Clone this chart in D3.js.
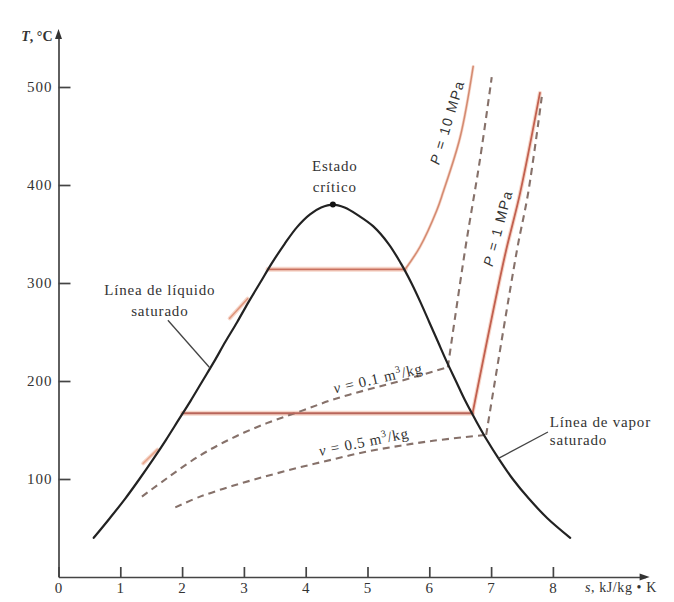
<!DOCTYPE html>
<html lang="es">
<head>
<meta charset="utf-8">
<title>Diagrama T-s del agua</title>
<script src="https://d3js.org/d3.v7.min.js"></script>
<style>
  body { margin:0; background:#fff; }
  svg text { font-family: "Liberation Serif", "DejaVu Serif", serif; fill:#333; }
  .axis path, .axis line { stroke:#444; stroke-width:1.7; }
  .axis text { font-size:15px; letter-spacing:1px; fill:#333; font-family:"Liberation Serif", serif; }
  .lbl { font-size:15px; letter-spacing:0.8px; }
  .plbl { font-family:"Liberation Sans", Arial, sans-serif !important; font-size:14px; letter-spacing:1.4px; }
</style>
</head>
<body>
<svg id="chart"></svg>
<script>
// ---- data (s in kJ/kg·K, T in °C) ----
var sTicks = [0,1,2,3,4,5,6,7,8];
var tTicks = [100,200,300,400,500];

var satDome = [[0.57,40],[0.83,60],[1.08,80],[1.31,100],[1.53,120],[1.74,140],[1.94,160],[2.14,180],
  [2.33,200],[2.52,220],[2.70,240],[2.89,260],[3.07,280],[3.26,300],[3.45,320],[3.66,340],[3.86,357],
  [4.07,370],[4.25,377],[4.44,380],[4.63,377],[4.85,369],[5.09,358],[5.34,340],[5.54,320],[5.71,300],
  [5.86,280],[6.00,260],[6.14,240],[6.28,220],[6.43,200],[6.58,180],[6.75,160],[6.93,140],[7.13,120],
  [7.35,100],[7.61,80],[7.91,60],[8.28,40]];
var critPoint = [4.44,380];

var p10Sat = [[3.39,314],[5.61,314]];
var p10Super = [[5.61,314],[5.85,337],[6.12,374],[6.22,392],[6.50,449],[6.71,521]];
var p10Liquid = [[2.77,264],[3.06,284]];

var p1Sat = [[2.01,167],[6.70,167]];
var p1Super = [[6.70,167],[7.22,327],[7.47,392],[7.79,494]];
var p1Liquid = [[1.37,116],[1.60,130]];

var v01Wet = [[1.35,82],[1.76,101],[2.29,124],[2.82,142],[3.37,157],[3.91,169],[4.44,181],[4.99,191],[5.53,200],[6.30,214]];
var v01Super = [[6.30,214],[6.58,334],[6.82,426],[7.01,510]];
var v05Wet = [[1.89,71],[2.29,82],[2.82,93],[3.37,103],[3.91,112],[4.44,120],[4.99,128],[5.53,134],[6.06,139],[6.92,145]];
var v05Super = [[6.92,145],[7.42,334],[7.60,392],[7.82,490]];

// ---- setup ----
var w = 674, h = 602;
var svg = d3.select("#chart").attr("width", w).attr("height", h);

var x = d3.scaleLinear().domain([0, 9.5]).range([58.5, 645.6]);
var y = d3.scaleLinear().domain([0, 555]).range([577, 33.1]);

var line = d3.line().x(d => x(d[0])).y(d => y(d[1])).curve(d3.curveCatmullRom);

// ---- axes ----
var xAxis = d3.axisBottom(x).tickValues(sTicks).tickSizeInner(-10).tickSizeOuter(0)
  .tickPadding(5).tickFormat(d3.format("d"));
var yAxis = d3.axisLeft(y).tickValues(tTicks).tickSizeInner(-12).tickSizeOuter(0)
  .tickPadding(6).tickFormat(d3.format("d"));

svg.append("g").attr("class","axis").attr("transform","translate(0," + y(0) + ")").call(xAxis);
svg.append("g").attr("class","axis").attr("transform","translate(" + x(0) + ",0)").call(yAxis);

// arrow heads
svg.append("path")
  .attr("d", "M" + (x(9.5)+4) + "," + y(0) + "L" + (x(9.5)-6) + "," + (y(0)-3.5) + "L" + (x(9.5)-6) + "," + (y(0)+3.5) + "Z")
  .attr("fill","#333");
svg.append("path")
  .attr("d", "M" + x(0) + "," + (y(555)-4) + "L" + (x(0)-3.5) + "," + (y(555)+6) + "L" + (x(0)+3.5) + "," + (y(555)+6) + "Z")
  .attr("fill","#333");

// axis titles
var tt = svg.append("text").attr("x", x(0)-6).attr("y", y(555)+8).attr("text-anchor","end")
  .style("font-size","14px").style("font-weight","bold");
tt.append("tspan").style("font-style","italic").text("T");
tt.append("tspan").text(", °C");

var st = svg.append("text").attr("x", x(8)+32).attr("y", y(0)+15).style("font-size","14px").style("letter-spacing","0.6px");
st.append("tspan").style("font-style","italic").text("s");
st.append("tspan").text(", kJ/kg • K");

// ---- curves ----
function halo(data, width) {
  svg.append("path").datum(data).attr("d", line).attr("fill","none")
    .attr("stroke","#f6d6ca").attr("stroke-width", width).attr("stroke-linecap","round");
}
function solid(data, color, width) {
  svg.append("path").datum(data).attr("d", line).attr("fill","none")
    .attr("stroke", color).attr("stroke-width", width).attr("stroke-linecap","round");
}
function dashed(data) {
  svg.append("path").datum(data).attr("d", line).attr("fill","none")
    .attr("stroke","#86716a").attr("stroke-width", 2.1).attr("stroke-dasharray","7,5");
}

halo(p10Sat, 5); halo(p1Sat, 5); halo(p1Super, 4); halo(p10Super, 3);
halo(p10Liquid, 4); halo(p1Liquid, 4);

dashed(v01Wet); dashed(v01Super);
dashed(v05Wet); dashed(v05Super);

solid(p10Sat, "#c9705e", 1.8);
solid(p1Sat, "#b9655a", 2);
solid(p10Super, "#d48a70", 1.5);
solid(p1Super, "#c2604f", 1.8);
solid(p10Liquid, "#e0967c", 1.6);
solid(p1Liquid, "#e8a88e", 1.6);

solid(satDome, "#222", 2.2);

svg.append("circle").attr("cx", x(critPoint[0])).attr("cy", y(critPoint[1])).attr("r", 3).attr("fill","#111");

// ---- annotations ----
function label(txt, s, t, anchor) {
  svg.append("text").attr("class","lbl").attr("x", x(s)).attr("y", y(t))
    .attr("text-anchor", anchor || "middle").text(txt);
}
label("Estado", 4.47, 414);
label("crítico", 4.47, 393);
label("Línea de líquido", 1.64, 288);
label("saturado", 1.64, 266);
label("Línea de vapor", 7.95, 153, "start");
label("saturado", 7.95, 134.5, "start");

var leader = d3.line().x(d => x(d[0])).y(d => y(d[1]));
svg.append("path").datum([[1.77,262],[2.44,214]]).attr("d", leader).attr("stroke","#444").attr("stroke-width",1.3).attr("fill","none");
svg.append("path").datum([[7.92,148],[7.12,121]]).attr("d", leader).attr("stroke","#444").attr("stroke-width",1.3).attr("fill","none");

function plabel(val, s, t, ang) {
  var g = svg.append("text").attr("class","plbl")
    .attr("transform","translate(" + x(s) + "," + y(t) + ") rotate(" + ang + ")")
    .attr("text-anchor","middle").attr("dy","0.35em");
  g.append("tspan").style("font-style","italic").text("P");
  g.append("tspan").text(" = " + val + " MPa");
}
plabel("10", 6.29, 464, -73);
plabel("1", 7.11, 356, -75);

function vlabel(val, s, t, ang) {
  var g = svg.append("text").attr("class","lbl")
    .attr("transform","translate(" + x(s) + "," + y(t) + ") rotate(" + ang + ")")
    .attr("text-anchor","middle").attr("dy","0.35em");
  g.append("tspan").style("font-style","italic").text("v");
  g.append("tspan").text(" = " + val + " m");
  g.append("tspan").attr("dy","-6").style("font-size","10px").text("3");
  g.append("tspan").attr("dy","6").text("/kg");
}
vlabel("0.1", 5.17, 203, -13);
vlabel("0.5", 4.94, 138, -11.5);
</script>
</body>
</html>
